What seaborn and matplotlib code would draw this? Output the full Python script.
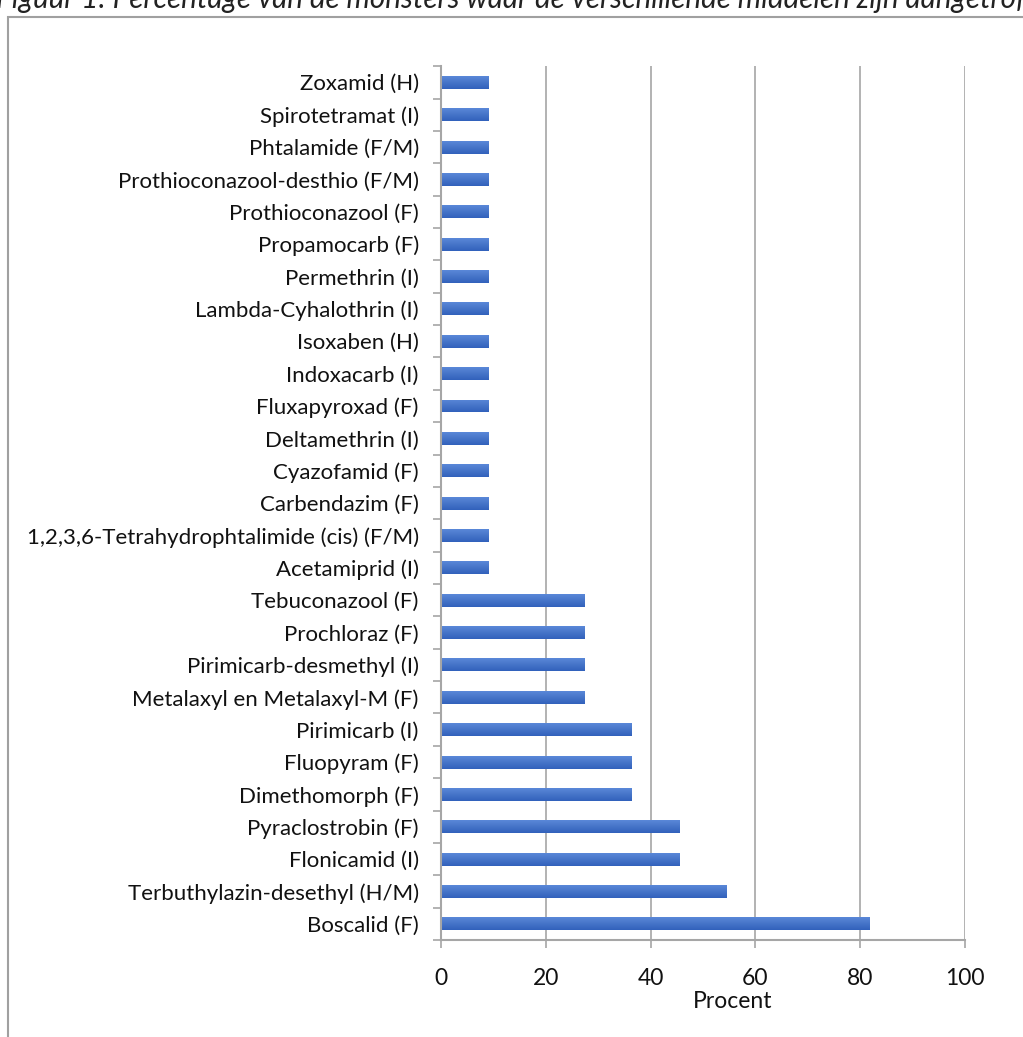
import numpy as np
import pandas as pd
import seaborn as sns
import matplotlib.pyplot as plt
from matplotlib.patches import Rectangle
from matplotlib.colors import LinearSegmentedColormap

middelen = [
    "Zoxamid (H)", "Spirotetramat (I)", "Phtalamide (F/M)", "Prothioconazool-desthio (F/M)",
    "Prothioconazool (F)", "Propamocarb (F)", "Permethrin (I)", "Lambda-Cyhalothrin (I)",
    "Isoxaben (H)", "Indoxacarb (I)", "Fluxapyroxad (F)", "Deltamethrin (I)",
    "Cyazofamid (F)", "Carbendazim (F)", "1,2,3,6-Tetrahydrophtalimide (cis) (F/M)",
    "Acetamiprid (I)", "Tebuconazool (F)", "Prochloraz (F)", "Pirimicarb-desmethyl (I)",
    "Metalaxyl en Metalaxyl-M (F)", "Pirimicarb (I)", "Fluopyram (F)", "Dimethomorph (F)",
    "Pyraclostrobin (F)", "Flonicamid (I)", "Terbuthylazin-desethyl (H/M)", "Boscalid (F)",
]
procent = [9.1] * 16 + [27.3] * 4 + [36.4] * 3 + [45.5] * 2 + [54.5, 81.8]
x_ticks = [0, 20, 40, 60, 80, 100]

df = pd.DataFrame({"Middel": middelen, "Procent": procent})

sns.set_theme(style="white")
plt.rcParams["font.family"] = ["Lato", "DejaVu Sans"]

fig = plt.figure(figsize=(10.23, 10.37), dpi=100)
ax = fig.add_axes([0.4311, 0.0935, 0.5122, 0.8427])

sns.barplot(data=df, y="Middel", x="Procent", orient="h", width=0.4,
            color="#4472C4", saturation=1, ax=ax)

# Excel-like vertical gradient on each bar
grad = LinearSegmentedColormap.from_list("bar", ["#5A88D8", "#4674C8", "#3262BC"])
for bar in ax.patches:
    x0, y0 = bar.get_x(), bar.get_y()
    w, h = bar.get_width(), bar.get_height()
    bar.set_facecolor("none")
    bar.set_edgecolor("none")
    im = ax.imshow(np.linspace(0, 1, 32).reshape(-1, 1), cmap=grad, aspect="auto",
                   extent=(x0, x0 + w, y0 + h, y0), origin="upper", zorder=2)
    im.set_clip_path(bar)
ax.set_xlim(0, 100)
ax.set_ylim(len(middelen) - 0.5, -0.5)

ax.set_xticks(x_ticks)
ax.set_xticklabels([str(t) for t in x_ticks], fontsize=16.5, color="#111111")
ax.tick_params(axis="x", length=6, width=1.2, color="#A6A6A6", pad=14, bottom=True)
ax.set_yticks(np.arange(len(middelen)))
ax.set_yticklabels(middelen, fontsize=16, color="#111111")
ax.set_yticks(np.arange(len(middelen) + 1) - 0.5, minor=True)
ax.tick_params(axis="y", which="major", length=0, pad=16)
ax.tick_params(axis="y", which="minor", length=6, width=1.2, color="#A6A6A6", left=True)
ax.xaxis.grid(True, color="#A6A6A6", linewidth=1.2)
ax.set_axisbelow(True)
for s in ["top", "right"]:
    ax.spines[s].set_visible(False)
for s in ["left", "bottom"]:
    ax.spines[s].set_color("#A6A6A6")
    ax.spines[s].set_linewidth(1.5)

ax.set_ylabel("")
ax.set_xlabel("Procent", fontsize=16.5, color="#111111")
ax.xaxis.set_label_coords(0.557, -0.058)

# outer chart frame (cut off at the right and bottom)
fig.patches.append(Rectangle((8 / 1023, -0.1), 1.2, 1.1 - 17 / 1037, transform=fig.transFigure,
                             fill=False, edgecolor="#A0A0A0", linewidth=1.5))

fig.text(-0.004, 1.0 - 8 / 1037, "Figuur 1: Percentage van de monsters waar de verschillende middelen zijn aangetroffen",
         fontsize=21.3, style="italic", ha="left", va="baseline", color="#222222")

fig.savefig("out.png", dpi=100)
